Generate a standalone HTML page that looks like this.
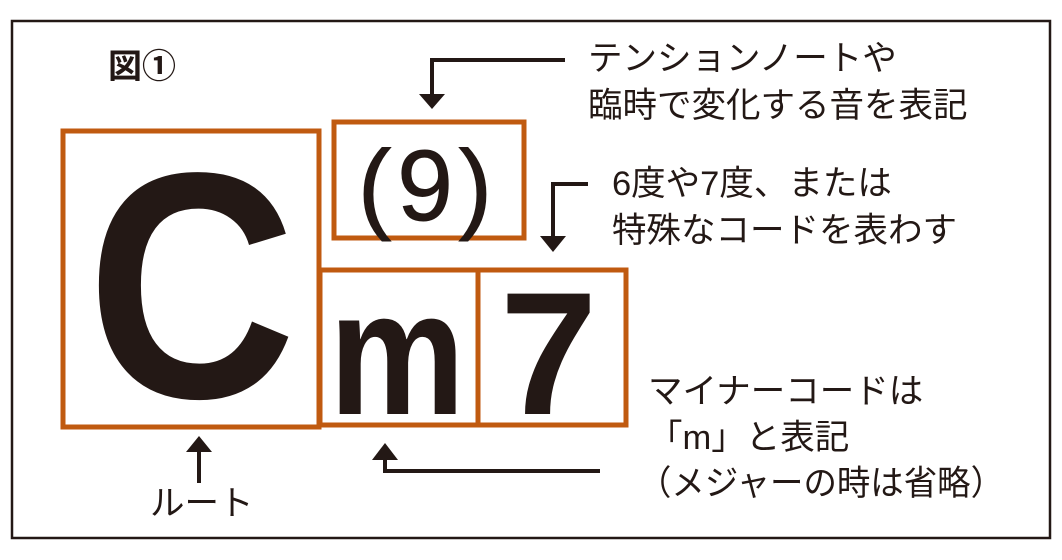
<!DOCTYPE html>
<html><head><meta charset="utf-8"><style>
html,body{margin:0;padding:0;background:#fff;}
svg{display:block;}
text{fill:#231815;}
.j{font-family:"Liberation Sans","Noto Sans CJK JP",sans-serif;font-size:34.5px;}
</style></head><body>
<svg width="1062" height="560" viewBox="0 0 1062 560" xmlns="http://www.w3.org/2000/svg">
<rect x="12" y="21" width="1038" height="517" fill="#fff" stroke="#231815" stroke-width="2.5"/>
<text x="108" y="78" style="font-family:'Liberation Sans','Noto Sans CJK JP',sans-serif;font-size:34px;font-weight:bold">図①</text>
<g fill="none" stroke="#c05a10" stroke-width="5">
<rect x="63" y="131" width="256" height="296"/>
<rect x="334" y="122" width="190" height="116"/>
<rect x="320" y="270" width="158" height="155"/>
<rect x="478" y="270" width="148" height="155"/>
</g>
<text transform="translate(87,397) scale(0.9,1)" style="font-family:'Liberation Sans',sans-serif;font-size:322px;font-weight:bold">C</text>
<text x="428" y="220" text-anchor="middle" letter-spacing="6" style="font-family:'Liberation Sans',sans-serif;font-size:100px;stroke:#231815;stroke-width:1">(9)</text>
<text transform="translate(329,414) scale(1.02,1.18)" style="font-family:'Liberation Sans',sans-serif;font-size:150px;font-weight:bold">m</text>
<text x="500" y="414" style="font-family:'Liberation Sans',sans-serif;font-size:175px;font-weight:bold">7</text>
<g stroke="#231815" stroke-width="4" fill="none">
<polyline points="565,60 432,60 432,96"/>
<polyline points="588,184 553,184 553,238"/>
<polyline points="600,471 385,471 385,458"/>
<line x1="199" y1="450" x2="199" y2="483"/>
</g>
<g fill="#231815">
<polygon points="419,94 445,94 432,109"/>
<polygon points="540,236 566,236 553,252"/>
<polygon points="372,460 398,460 385,443"/>
<polygon points="186,452 212,452 199,436"/>
</g>
<text class="j" x="588" y="70">テンションノートや</text>
<text class="j" x="588" y="117">臨時で変化する音を表記</text>
<text class="j" x="612" y="195">6度や7度、または</text>
<text class="j" x="612" y="242">特殊なコードを表わす</text>
<text class="j" x="648" y="403">マイナーコードは</text>
<text class="j" x="648" y="449">「m」と表記</text>
<text class="j" x="638" y="495" textLength="366" lengthAdjust="spacingAndGlyphs">（メジャーの時は省略）</text>
<text class="j" x="150" y="515">ルート</text>
</svg>
</body></html>
